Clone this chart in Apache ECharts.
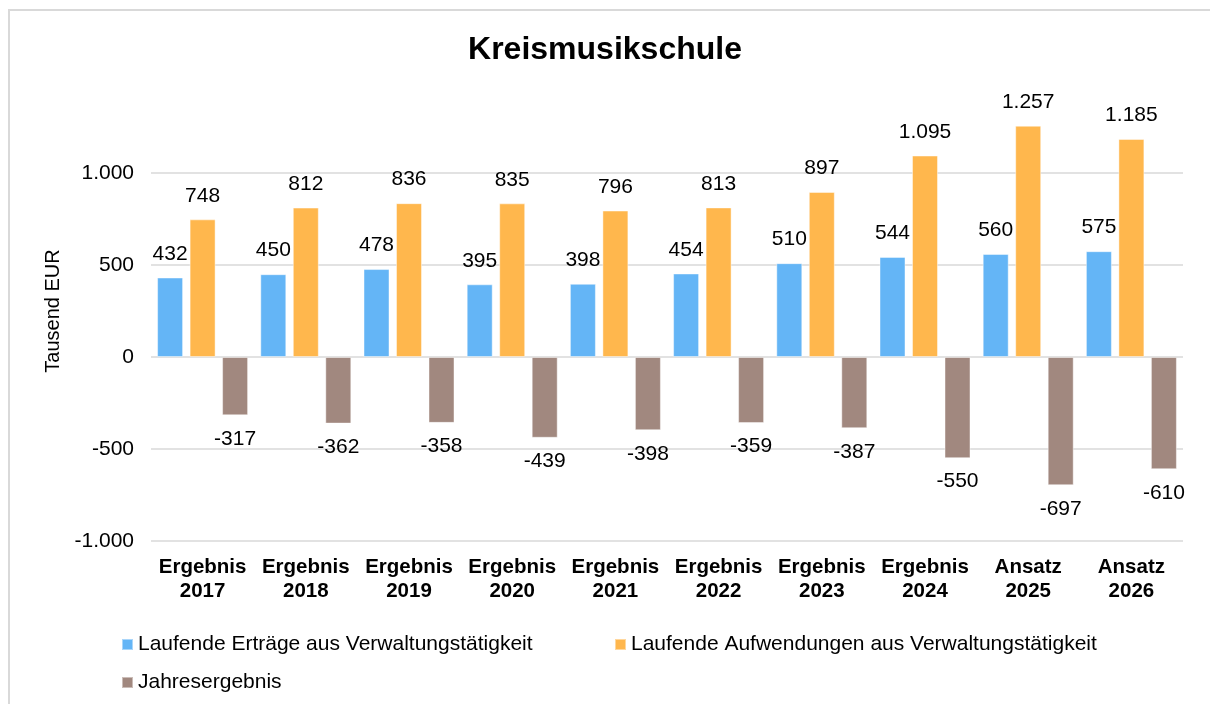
<!DOCTYPE html>
<html>
<head>
<meta charset="utf-8">
<script src="https://cdn.jsdelivr.net/npm/echarts@6/dist/echarts.min.js"></script>
<style>
  html, body { margin: 0; padding: 0; background: #fff; overflow: hidden; }
  #chart { width: 1210px; height: 704px; }
</style>
</head>
<body>
<div id="chart"></div>
<script>
var categories = [
  "Ergebnis\n2017", "Ergebnis\n2018", "Ergebnis\n2019", "Ergebnis\n2020", "Ergebnis\n2021",
  "Ergebnis\n2022", "Ergebnis\n2023", "Ergebnis\n2024", "Ansatz\n2025", "Ansatz\n2026"
];
var ertraege = [432, 450, 478, 395, 398, 454, 510, 544, 560, 575];
var aufwendungen = [748, 812, 836, 835, 796, 813, 897, 1095, 1257, 1185];
var jahresergebnis = [-317, -362, -358, -439, -398, -359, -387, -550, -697, -610];
var seriesNames = [
  "Laufende Erträge aus Verwaltungstätigkeit",
  "Laufende Aufwendungen aus Verwaltungstätigkeit",
  "Jahresergebnis"
];

var FONT = "Liberation Sans, Arial, sans-serif";

// 1.257 style numbers
function fmt(v) {
  var s = String(Math.abs(v)).replace(/\B(?=(\d{3})+(?!\d))/g, ".");
  return (v < 0 ? "-" : "") + s;
}

function barSeries(name, data, color, pos) {
  return {
    name: name,
    type: "bar",
    data: data,
    barWidth: 26,
    barGap: "25%",
    itemStyle: { color: color, borderColor: "rgba(255,255,255,0.45)", borderWidth: 1 },
    label: {
      show: true,
      position: pos,
      distance: 13,
      color: "#000",
      fontFamily: FONT,
      fontSize: 21,
      formatter: function (p) { return fmt(p.value); }
    }
  };
}

function legendAt(name, left, top) {
  return {
    data: [name],
    left: left,
    top: top,
    icon: "rect",
    itemWidth: 11,
    itemHeight: 11,
    itemGap: 5,
    textStyle: { fontFamily: FONT, fontSize: 21, color: "#000", padding: [0, 0, 0, 0] }
  };
}

var chart = echarts.init(document.getElementById("chart"));
chart.setOption({
  animation: false,
  backgroundColor: "#fff",
  title: {
    text: "Kreismusikschule",
    left: "center",
    top: 29,
    textStyle: { fontFamily: FONT, fontSize: 32, fontWeight: "bold", color: "#000" }
  },
  graphic: [{
    type: "polyline",
    shape: { points: [[9, 704], [9, 10], [1210, 10]] },
    style: { fill: null, stroke: "#d9d9d9", lineWidth: 2 },
    silent: true
  }],
  legend: [
    legendAt(seriesNames[0], 116, 629),
    legendAt(seriesNames[1], 609, 629),
    legendAt(seriesNames[2], 116, 667)
  ],
  grid: { left: 151, right: 27, top: 81, bottom: 163 },
  xAxis: {
    type: "category",
    data: categories,
    axisLine: { show: false, onZero: false },
    axisTick: { show: false },
    axisLabel: {
      interval: 0,
      margin: 14,
      color: "#000",
      fontFamily: FONT,
      fontSize: 20.5,
      fontWeight: "bold",
      lineHeight: 24
    }
  },
  yAxis: {
    type: "value",
    min: -1000,
    max: 1500,
    interval: 500,
    name: "Tausend EUR",
    nameLocation: "middle",
    nameGap: 86,
    nameTextStyle: { fontFamily: FONT, fontSize: 20, color: "#000" },
    axisLine: { show: false },
    axisTick: { show: false },
    axisLabel: {
      showMaxLabel: false,
      margin: 17,
      color: "#000",
      fontFamily: FONT,
      fontSize: 21,
      formatter: function (v) { return fmt(v); }
    },
    splitLine: { show: true, showMaxLine: false, lineStyle: { color: "#d9d9d9", width: 1.5 } }
  },
  series: [
    barSeries(seriesNames[0], ertraege, "#64b5f6", "top"),
    barSeries(seriesNames[1], aufwendungen, "#ffb74d", "top"),
    barSeries(seriesNames[2], jahresergebnis, "#a1887f", "bottom")
  ]
});
</script>
</body>
</html>
